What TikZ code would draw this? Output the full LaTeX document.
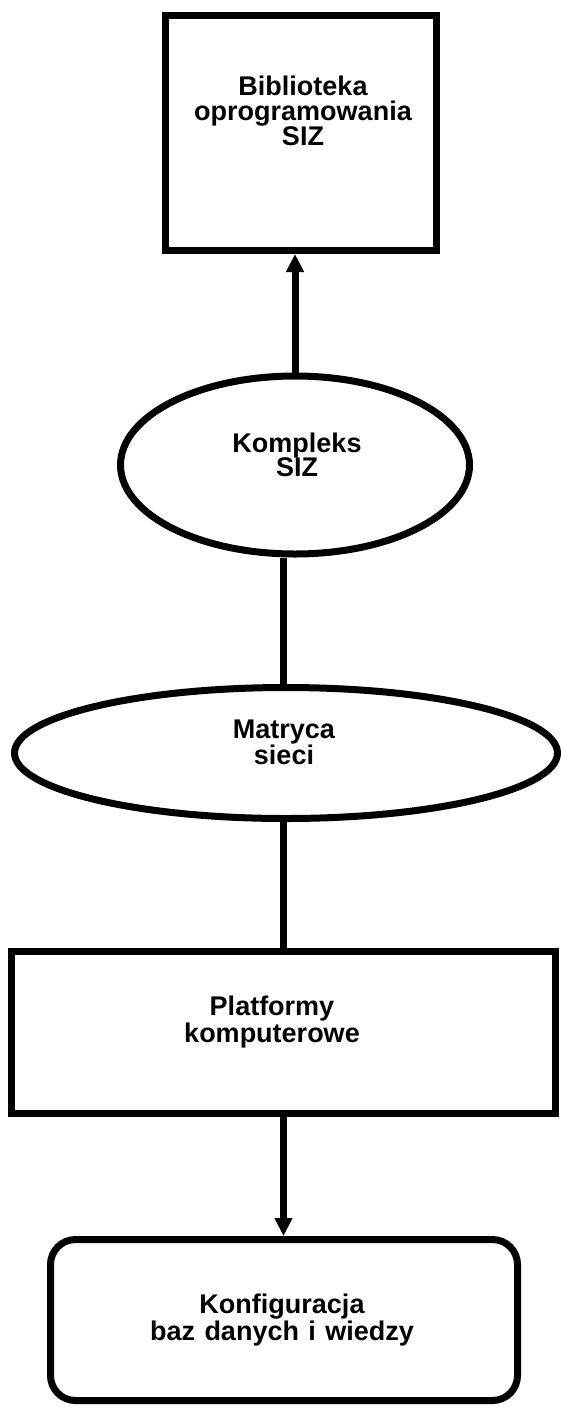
\documentclass[tikz,border=0pt]{standalone}
\usepackage{fontspec}
\setmainfont{Liberation Sans}
\usetikzlibrary{shapes.geometric,arrows.meta}

\tikzset{
  blok/.style={draw, line width=7pt, rectangle, inner sep=0pt},
  owal/.style={draw, line width=7pt, ellipse, inner sep=0pt},
  napis/.style={align=center, inner sep=0pt, font=\bfseries\fontsize{27}{24.5}\selectfont},
  linia/.style={line width=7pt},
  strz/.style={line width=7pt, -{Triangle[length=18pt,width=17pt]}},
}

\begin{document}
\begin{tikzpicture}[x=1pt,y=-1pt]
\useasboundingbox (0,0) rectangle (564,1409);

% biblioteka u gory
\node[blok, minimum width=271pt, minimum height=235pt] (bib) at (301,133) {};
\node[napis] (bibtxt) at (303,111) {Biblioteka\\oprogramowania\\SIZ};

% dwa owale
\node[owal, minimum width=349pt, minimum height=178pt] (kompl) at (295,465) {};
\node[napis] (kompltxt) at (297,455) {Kompleks\\SIZ};
\node[owal, minimum width=543pt, minimum height=131pt] (matr) at (286,753) {};
\node[napis] (matrtxt) at (284,742) {Matryca\\sieci};

% platformy
\node[blok, minimum width=544pt, minimum height=162pt] (platf) at (283.5,1032) {};
\node[napis] (platftxt) at (272,1022) {Platformy\\komputerowe};

% konfiguracja (zaokraglona)
\node[blok, rounded corners=25pt, minimum width=467pt, minimum height=161pt] (konf) at (284,1320) {};
\node[napis] (konftxt) at (282,1320) {Konfiguracja\\baz\hspace{.35em}danych\hspace{.35em}i\hspace{.35em}wiedzy};

% polaczenia
\draw[strz] (kompl.north) -- (kompl.north |- bib.south);
\coordinate (dol) at ([xshift=-12pt]kompl.south);
\draw[linia] (dol) -- (dol |- matr.north);
\draw[linia] (matr.south -| platf.north) -- (platf.north);
\draw[strz] (platf.south) -- (platf.south |- konf.north);
\end{tikzpicture}
\end{document}
